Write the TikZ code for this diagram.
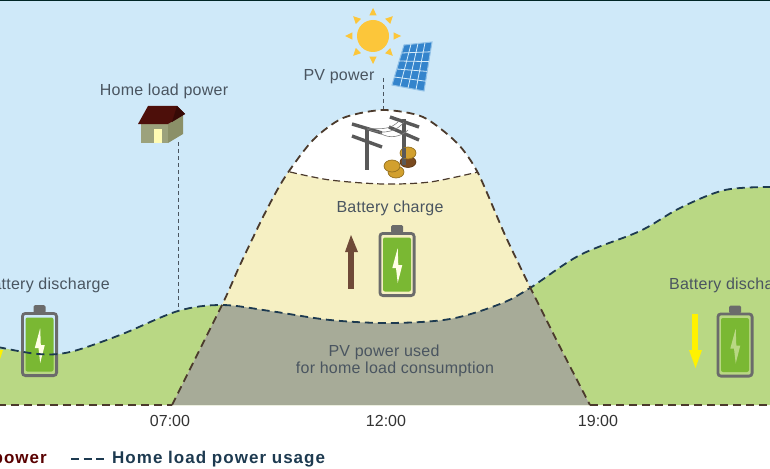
\documentclass[tikz,border=0pt]{standalone}
\usepackage{fontspec}
\setmainfont{Liberation Sans}
\newfontfamily\wideface[LetterSpace=1.5]{Liberation Sans}
\newfontfamily\legendface[LetterSpace=6]{Liberation Sans}
\usetikzlibrary{calc,positioning}
\definecolor{skyblue}{HTML}{CFE9F9}
\definecolor{grassgreen}{HTML}{B9D884}
\definecolor{chargeyellow}{HTML}{F6F0C3}
\definecolor{usedgrey}{HTML}{A7AB98}
\definecolor{pvbrown}{HTML}{4B3A2C}
\definecolor{loadnavy}{HTML}{1D3A50}
\definecolor{labelgrey}{HTML}{4A5560}
\definecolor{batgrey}{HTML}{6B6B6B}
\definecolor{batgreen}{HTML}{7AB833}
\definecolor{coingold}{HTML}{D2A02E}
\definecolor{coinbrown}{HTML}{7A4A1E}
\definecolor{panelblue}{HTML}{3484CC}
\definecolor{sunyellow}{HTML}{FCC63A}
\definecolor{wallfront}{HTML}{9CA27C}
\definecolor{wallside}{HTML}{8B9068}
\definecolor{roofred}{HTML}{4D0F0A}
\definecolor{roofdark}{HTML}{360A06}
\definecolor{upbrown}{HTML}{6F4A38}
\newcommand{\Battery}[3]{
  \node[batbox] (#1) at (#2) {};
  \fill[batgrey,rounded corners=1.5pt] ($(#1.north)+(-6,1)$) rectangle ($(#1.north)+(6,-7)$);
  \fill[batgreen,rounded corners=2pt] ($(#1)+(-14,-27)$) rectangle ($(#1)+(14,27)$);
  \fill[#3] ($(#1)+(0.7,-16.5)$) -- ($(#1)+(-4.7,3.5)$) -- ($(#1)+(-1,3.5)$) -- ($(#1)+(0.7,18.5)$)
    -- ($(#1)+(5.3,0.5)$) -- ($(#1)+(1.3,0.5)$) -- cycle;
}
\def\loadcurve{plot[smooth,tension=0.55] coordinates {(-2,347) (38,354) (70,352) (120,335) (178,311) (222,305)
  (270,311) (330,320) (390,323) (450,319) (500,304) (530,288) (580,255) (640,231) (680,208) (725,190) (772,187)}}
\def\pvcurve{plot[smooth,tension=0.45] coordinates {(172,405) (222,305) (240,265) (265,213) (285,177) (313,140)
  (343,118) (383,110) (423,117) (457,143) (478,173) (505,235) (530,287) (560,347) (590,405)}}

\begin{document}
\begin{tikzpicture}[x=1pt,y=-1pt]
    \tikzset{lbl/.style={text=labelgrey,font=\wideface\fontsize{16}{18}\selectfont},
      hourlbl/.style={text=black!80,font=\fontsize{16}{19}\selectfont},
      batbox/.style={draw=batgrey,line width=2.8pt,rounded corners=3pt,fill=none,
        minimum width=34.2pt,minimum height=62.2pt,inner sep=0pt},
      pvline/.style={draw=pvbrown,line width=1.8pt,dash pattern=on 8pt off 5pt},
      loadline/.style={draw=loadnavy,line width=1.8pt,dash pattern=on 8pt off 5pt},
      leader/.style={draw=labelgrey,line width=0.9pt,dash pattern=on 4pt off 3pt},
      polebar/.style={draw=black!65,line width=3.4pt},
      coin/.style={fill=coingold,draw=black!30!coingold,line width=0.7pt},
      legendlbl/.style={font=\legendface\fontsize{17}{20}\selectfont\bfseries}}
    \useasboundingbox (0,0) rectangle (770,468);

    \fill[skyblue] (0,0) rectangle (770,405);
    \fill[black!70!teal] (0,0) rectangle (770,1);
    \fill[grassgreen] \loadcurve -- (772,405) -- (-2,405) -- cycle;
    \fill[chargeyellow] \pvcurve -- cycle;
    \begin{scope}
      \clip \pvcurve -- cycle;
      \fill[usedgrey] \loadcurve -- (772,405) -- (-2,405) -- cycle;
      \fill[white] plot[smooth] coordinates {(270,165) (290,172) (330,180) (383,184) (430,182) (478,172) (495,165)}
        -- (495,100) -- (270,100) -- cycle;
      \draw[draw=pvbrown,line width=1.2pt,dash pattern=on 7pt off 4pt]
        plot[smooth] coordinates {(290,172) (330,180) (383,184) (430,182) (478,172)};
    \end{scope}

    % sun
    \node[circle,fill=sunyellow,minimum size=32pt,inner sep=0pt] (sun) at (373,36) {};
    \foreach \a in {0,45,...,315}
      \fill[sunyellow] ($(sun)+(\a:28)$) -- ($(sun)+(\a+10:21)$) -- ($(sun)+(\a-10:21)$) -- cycle;

    % solar panel
    \coordinate (pA) at (404,45);
    \coordinate (pB) at (432,42);
    \coordinate (pC) at (424,91);
    \coordinate (pD) at (392,85);
    \fill[panelblue,draw=skyblue!60!panelblue,line width=1pt] (pA) -- (pB) -- (pC) -- (pD) -- cycle;
    \foreach \t in {0.25,0.5,0.75}
      \draw[skyblue!85,line width=0.8pt] ($(pA)!\t!(pB)$) -- ($(pD)!\t!(pC)$);
    \foreach \t in {0.2,0.4,0.6,0.8}
      \draw[skyblue!85,line width=0.8pt] ($(pA)!\t!(pD)$) -- ($(pB)!\t!(pC)$);

    % poles
    \draw[polebar] (367,127) -- (367,170);
    \draw[polebar] (352,124) -- (382,133);
    \draw[polebar] (352,136) -- (382,147);
    \draw[polebar] (404,119) -- (404,165);
    \draw[polebar] (390,117) -- (419,127);
    \draw[polebar] (389,127) -- (419,140);
    \draw[black!50,line width=0.6pt] (367,128) .. controls (385,130) and (392,128) .. (399,121);
    \draw[black!50,line width=0.6pt] (367,129) .. controls (385,136) and (398,130) .. (404,122);
    \draw[black!50,line width=0.6pt] (380,133) .. controls (390,140) and (402,136) .. (408,130);

    % coins
    \draw[fill=coinbrown,draw=black!30!coinbrown,line width=0.6pt] (408,162) ellipse (8pt and 5.5pt);
    \draw[polebar] (404,155) -- (404,165);
    \draw[coin] (408,153) ellipse (8pt and 6pt);
    \draw[polebar] (404,148) -- (404,158);
    \draw[coin] (396,172) ellipse (8pt and 6pt);
    \draw[coin] (392,166) ellipse (8pt and 6pt);

    % house
    \fill[wallfront] (141,124) rectangle (168,143);
    \fill[wallside] (168,124) -- (183,115) -- (183,134) -- (168,143) -- cycle;
    \fill[yellow!30] (154,129) rectangle (162,143);
    \fill[roofred] (148,106) -- (177,106) -- (185,114) -- (168,124) -- (138,124) -- cycle;
    \fill[roofdark] (177,106) -- (185,114) -- (172,122) -- cycle;
    \coordinate (house) at (178,142);
    \coordinate (houseFoot) at (178,311);
    \draw[leader] (house) -- (houseFoot);
    \coordinate (pvTop) at (383,78);
    \coordinate (pvFoot) at (383,110);
    \draw[leader] (pvTop) -- (pvFoot);

    % batteries
    \Battery{batL}{39.5,344.5}{white!90!yellow}
    \Battery{batC}{397,264.5}{white!90!yellow}
    \Battery{batR}{735,345}{grassgreen}

    % arrows
    \fill[yellow] (-6,314) rectangle (0,350);
    \fill[yellow] (-9,350) -- (3,350) -- (-3,368) -- cycle;
    \fill[yellow] (692,314) rectangle (698,350);
    \fill[yellow] (689,350) -- (702,350) -- (695.5,368) -- cycle;
    \fill[upbrown] (348,252) rectangle (354,289);
    \fill[upbrown] (345,252) -- (358,252) -- (351,235) -- cycle;

    % curves
    \draw[loadline] \loadcurve;
    \draw[pvline] (-2,405) -- (172,405);
    \draw[pvline] \pvcurve;
    \draw[pvline] (590,405) -- (772,405);

    \node[lbl] (homeLbl) at (164,91.5) {Home load power};
    \node[lbl] (pvLbl) at (339,76.5) {PV power};
    \node[lbl] (chargeLbl) at (390,208.5) {Battery charge};
    \node[lbl,anchor=east,inner xsep=0pt] (dischL) at (110,285.5) {Battery discharge};
    \node[lbl,anchor=west,inner xsep=0pt] (dischR) at (669,285.5) {Battery discharge};
    \node[lbl] (usedLbl) at (384,352.5) {PV power used};
    \node[lbl] (consLbl) at (395,369.5) {for home load consumption};
    \node[hourlbl] (h07) at (170,421) {07:00};
    \node[hourlbl] (h12) at (386,421) {12:00};
    \node[hourlbl] (h19) at (598,421) {19:00};

    \node[legendlbl,text=red!35!black,anchor=east,inner xsep=0pt] (legPv) at (47,459) {PV power};
    \coordinate (legA) at (71,459);
    \coordinate (legB) at (104,459);
    \draw[draw=loadnavy,line width=2.2pt,dash pattern=on 8pt off 4.5pt] (legA) -- (legB);
    \node[legendlbl,text=loadnavy,anchor=west,inner xsep=0pt] (legLoad) at (112,459) {Home load power usage};
\end{tikzpicture}
\end{document}
